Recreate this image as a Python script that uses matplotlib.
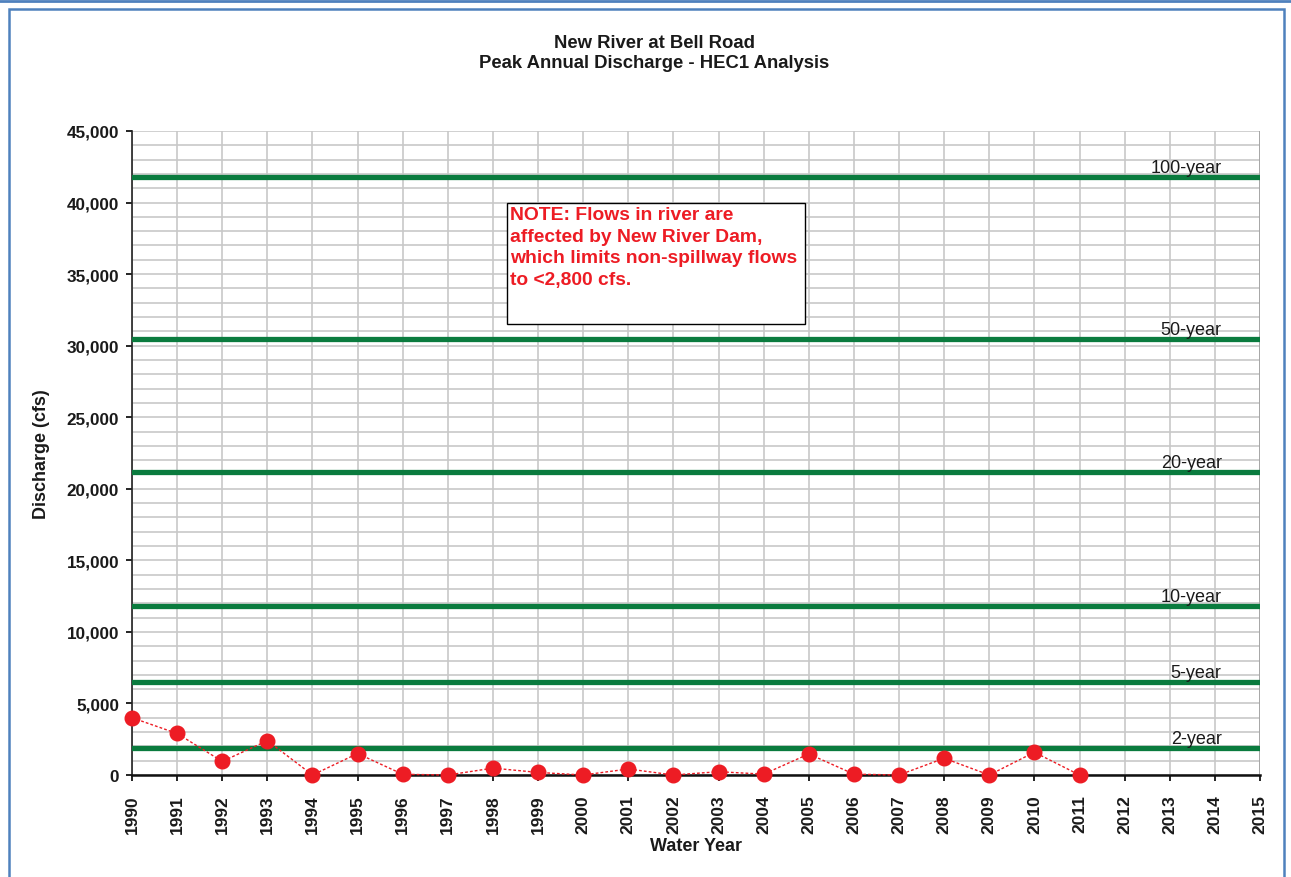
import matplotlib
matplotlib.use("Agg")
import matplotlib.pyplot as plt
from matplotlib.patches import Rectangle
from matplotlib.ticker import MultipleLocator, FuncFormatter
import numpy as np

plt.rcParams['font.family'] = ['Liberation Sans', 'DejaVu Sans']

# data
years = list(range(1990, 2012))
discharge = [4000, 2900, 950, 2400, 0, 1500, 50, 0, 480, 180, 0,
             420, 0, 230, 60, 1470, 60, 0, 1170, 0, 1590, 0]

tick_years = list(range(1990, 2016))

return_labels = ["100-year", "50-year", "20-year", "10-year", "5-year", "2-year"]
return_flows = [41800, 30500, 21200, 11800, 6500, 1900]

note = ("NOTE: Flows in river are\naffected by New River Dam,\n"
        "which limits non-spillway flows\nto <2,800 cfs.")

red = "#ED1C24"
green = "#0A7B3E"
blue = "#4F81BD"
ink = "#1a1a1a"

fig = plt.figure(figsize=(12.91, 8.78), dpi=100)
ax = fig.add_axes([132/1291, 1 - 776/878, 1128/1291, 644/878])

# return period lines
for lab, q in zip(return_labels, return_flows):
    ax.axhline(q, color=green, lw=3.8, zorder=3)
    ax.annotate(lab, xy=(2014.15, q), xytext=(0, 3.5), textcoords="offset points",
                ha="right", va="baseline", fontsize=13, color=ink, zorder=5)

ax.plot(years, discharge, color=red, ls=(0, (2, 1.5)), lw=1.0, marker="o",
        ms=10.5, mfc=red, mec=red, zorder=4, clip_on=False)

ax.set_xlim(1990, 2015)
ax.set_ylim(0, 45000)
ax.set_xticks(tick_years)
ax.set_xticklabels([str(y) for y in tick_years], rotation=90, fontsize=12.5,
                   fontweight="bold", color=ink)
ax.yaxis.set_major_locator(MultipleLocator(5000))
ax.yaxis.set_minor_locator(MultipleLocator(1000))
ax.yaxis.set_major_formatter(FuncFormatter(lambda v, p: f"{int(v):,}"))
for t in ax.get_yticklabels():
    t.set_fontweight("bold")
    t.set_fontsize(12.3)
    t.set_color(ink)
ax.tick_params(axis="y", which="major", direction="out", length=4.3, width=1.2, pad=5)
ax.tick_params(axis="y", which="minor", length=0)
ax.tick_params(axis="x", direction="out", length=4, width=1.2, pad=10)

ax.grid(True, which="both", axis="y", color="#c8c8c8", lw=1.2, zorder=0)
ax.grid(True, which="major", axis="x", color="#c8c8c8", lw=1.2, zorder=0)
ax.set_axisbelow(True)

for s in ["top", "right"]:
    ax.spines[s].set_visible(False)
ax.spines["left"].set_color("#222222")
ax.spines["bottom"].set_color("#111111")
ax.spines["bottom"].set_linewidth(1.8)
ax.spines["left"].set_linewidth(1.2)
ax.axvline(2015, color="#a0a0a0", lw=1.2, zorder=1)

ax.set_ylabel("Discharge (cfs)", fontsize=13, fontweight="bold", labelpad=11.5, color=ink)
ax.set_xlabel("Water Year", fontsize=13, fontweight="bold", labelpad=3, color=ink)

# note box
box = Rectangle((375/1128, (776-325)/644), 298/1128, 121/644, transform=ax.transAxes,
                fc="white", ec="black", lw=1.0, zorder=6)
ax.add_patch(box)
ax.text(378/1128, (776-207)/644, note, transform=ax.transAxes, ha="left", va="top",
        color=red, fontsize=13.9, fontweight="bold", linespacing=1.35, zorder=7)

fig.text(0.507, 1 - 43/878, "New River at Bell Road", ha="center", va="center",
         fontsize=13.3, fontweight="bold", color=ink)
fig.text(0.507, 1 - 64/878, "Peak Annual Discharge - HEC1 Analysis", ha="center",
         va="center", fontsize=13.3, fontweight="bold", color=ink)

# blue frame around chart area
fig.add_artist(plt.Line2D([0, 1], [1 - 1.5/878, 1 - 1.5/878], color=blue, lw=2,
                          transform=fig.transFigure))
fig.add_artist(Rectangle((8.5/1291, -0.01), (1284 - 8.5)/1291, 1 - 9.5/878 + 0.01,
                         transform=fig.transFigure, fill=False, ec=blue, lw=1.8))

fig.savefig("out.png", dpi=100)
